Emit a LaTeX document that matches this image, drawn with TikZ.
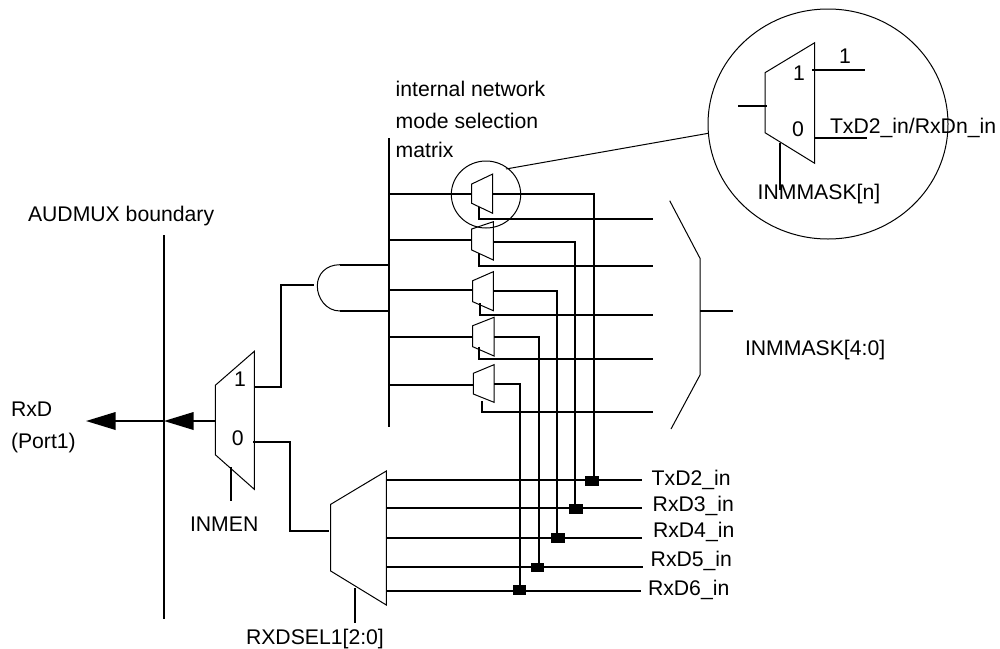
\documentclass[tikz,border=0pt]{standalone}
\usepackage{fontspec}
\setmainfont{Liberation Sans}
\usetikzlibrary{arrows.meta,calc,shapes.geometric}
\tikzset{
  wire/.style={line width=1.8pt,black,line cap=butt,line join=miter},
  thin outline/.style={line width=1pt,black,line join=miter},
  tap/.style={draw=none,fill=black,minimum width=13.5pt,minimum height=9.7pt,inner sep=0pt},
  lbl/.style={anchor=base west,inner sep=0pt,outer sep=0pt,font=\fontsize{21.2}{25}\selectfont},
  num/.style={anchor=base,inner sep=0pt,outer sep=0pt,font=\fontsize{21.2}{25}\selectfont},
  bighead/.style={-{Triangle[length=29.5pt,width=17.5pt]}},
  ring/.style={draw,ellipse,thin outline,inner sep=0pt},
}
\begin{document}
\begin{tikzpicture}[x=1pt,y=-1pt]
\useasboundingbox (0,0) rectangle (1000,648);
% labels
\node[lbl] (tAud) at (28,221.7) {AUDMUX boundary};
\node[lbl] (tRxd) at (11,416.7) {RxD};
\node[lbl] (tPort) at (11,448) {(Port1)};
\node[lbl] (tInt) at (395.7,96.7) {internal network};
\node[lbl] (tMode) at (395.7,128) {mode selection};
\node[lbl] (tMat) at (395.7,157.7) {matrix};
\node[lbl] (tInmen) at (190,531.7) {INMEN};
\node[lbl] (tSel) at (246,644) {RXDSEL1[2:0]};
\node[lbl] (tMask) at (745,355) {INMMASK[4:0]};
\node[lbl] (tTx) at (651.7,485.7) {TxD2\_in};
\node[lbl] (tR3) at (652.7,511.7) {RxD3\_in};
\node[lbl] (tR4) at (653,537) {RxD4\_in};
\node[lbl] (tR5) at (650.7,566.7) {RxD5\_in};
\node[lbl] (tR6) at (648,595) {RxD6\_in};
\node[num] (m1a) at (240,386.7) {1};
\node[num] (m0a) at (237.7,445.7) {0};

% boundary
\coordinate (bT) at (164,235);
\coordinate (bB) at (164,619);
\draw[wire] (bT) -- (bB);

% matrix bus
\coordinate (busT) at (388.7,138);
\coordinate (busB) at (388.7,427);
\draw[wire] (busT) -- (busB);

% main output mux
\coordinate (mA) at (215.3,385.3);
\coordinate (mB) at (254.3,351.3);
\coordinate (mC) at (254.3,489.3);
\coordinate (mD) at (215.3,454.7);
\draw[thin outline] (mA) -- (mB) -- (mC) -- (mD) -- cycle;
\coordinate (mOut) at (215.3,421);
\coordinate (bX) at (164,421);
\coordinate (rxdEnd) at (86,421);
\draw[wire,bighead] (mOut) -- (bX);
\draw[wire,bighead] (bX) -- (rxdEnd);
\coordinate (mSelT) at (231,467);
\coordinate (mSelB) at (231,500.7);
\draw[wire] (mSelT) -- (mSelB);

% gate
\coordinate (gTop) at (340,264.7);
\coordinate (gBot) at (340,311);
\coordinate (gLeft) at (317.3,285);
\draw[thin outline] (gTop) .. controls (326,264.7) and (317.3,274) .. (317.3,286) .. controls (317.3,298) and (326,311) .. (gBot);
\draw[wire] (gTop) -- (gTop -| busT);
\draw[wire] (gBot) -- (gBot -| busT);
\coordinate (m1o) at (254.3,386.7);
\coordinate (m1k) at (281,386.7);
\coordinate (gIn) at (314,284.7);
\draw[wire] (m1o) -- (m1k) |- (gIn);

% lower mux
\coordinate (sA) at (330.7,504.3);
\coordinate (sB) at (386.3,471);
\coordinate (sC) at (386.3,605);
\coordinate (sD) at (330.7,571);
\draw[thin outline] (sA) -- (sB) -- (sC) -- (sD) -- cycle;
\coordinate (m0o) at (253,442);
\coordinate (m0k) at (290,442);
\coordinate (sIn) at (329,531);
\draw[wire] (m0o) -- (m0k) |- (sIn);
\coordinate (sSelT) at (355,588);
\coordinate (sSelB) at (355,622.7);
\draw[wire] (sSelT) -- (sSelB);

% input rails
\foreach \n/\y/\e in {1/480/642,2/508/642,3/538/642,4/567/643,5/591/641}{
  \coordinate (rL\n) at (386.3,\y);
  \coordinate (rR\n) at (\e,\y);
  \draw[wire] (rL\n) -- (rR\n);
}

% tap blocks
\node[tap] (j1) at (592.2,480.9) {};
\node[tap] (j2) at (576,508.9) {};
\node[tap] (j3) at (558,537.9) {};
\node[tap] (j4) at (537.5,567.5) {};
\node[tap] (j5) at (519.5,589.9) {};

% small muxes
\foreach \n/\lx/\rx/\lt/\rt/\rb/\lb/\iny/\outy/\vx/\sx/\st/\sy in {
  1/471.7/492.7/184/174/213.3/203.3/194/194/593.7/479/206.7/219,
  2/471.7/493.3/229/221.7/260/250/240/241.7/575/479/253.3/266,
  3/472.7/493.3/280.7/271.7/310.7/301.7/290/291/557/480/303/315,
  4/472.7/494/325.7/317.3/356/346.7/337/337/539/479/346.7/359,
  5/473.3/494/373.3/364.7/402.3/394/385/384/520/481.7/401/412}{
  \coordinate (a\n) at (\lx,\lt);
  \coordinate (b\n) at (\rx,\rt);
  \coordinate (c\n) at (\rx,\rb);
  \coordinate (d\n) at (\lx,\lb);
  \draw[thin outline] (a\n) -- (b\n) -- (c\n) -- (d\n) -- cycle;
  \coordinate (in\n) at (\lx,\iny);
  \draw[wire] (in\n -| busT) -- (in\n);
  \coordinate (o\n) at (\rx,\outy);
  \coordinate (k\n) at (\vx,\outy);
  \draw[wire] (o\n) -- (k\n) -- (k\n |- j\n);
  \coordinate (st\n) at (\sx,\st);
  \coordinate (se\n) at (653,\sy);
  \draw[wire] (st\n) |- (se\n);
}

% zoom circle and leader
\node[ring,minimum width=69.4pt,minimum height=67pt] (zc) at (486,194.5) {};
\node[ring,minimum width=240pt,minimum height=230pt] (bc) at (828,124) {};
\coordinate (ldA) at (506,169);
\coordinate (ldB) at (708.3,133.3);
\draw[thin outline] (ldA) -- (ldB);

% brace
\coordinate (brA) at (669.7,200.7);
\coordinate (brB) at (700,258.3);
\coordinate (brC) at (700,375);
\coordinate (brD) at (671,429);
\coordinate (brS) at (733,311);
\draw[thin outline] (brA) -- (brB) -- (brC) -- (brD);
\draw[wire] (brS -| brB) -- (brS);

% enlarged mux
\coordinate (zA) at (765,72.7);
\coordinate (zB) at (814.7,42.7);
\coordinate (zC) at (814.7,163.3);
\coordinate (zD) at (765,132.7);
\draw[thin outline] (zA) -- (zB) -- (zC) -- (zD) -- cycle;
\coordinate (zI) at (738,105.7);
\coordinate (zIe) at (767,105.7);
\draw[wire] (zI) -- (zIe);
\coordinate (zO1) at (812,69.7);
\coordinate (zO1e) at (865,69.7);
\draw[wire] (zO1) -- (zO1e);
\coordinate (zO0) at (814.7,138.3);
\coordinate (zO0e) at (866.7,138.3);
\draw[wire] (zO0) -- (zO0e);
\coordinate (zS) at (780,142.7);
\coordinate (zSe) at (780,190);
\draw[wire] (zS) -- (zSe);
\node[num] (z1) at (799,80.7) {1};
\node[num] (z0) at (798,136.7) {0};
\node[num] (zOne) at (845,63.3) {1};
\node[lbl] (zTx) at (830,133) {TxD2\_in/RxDn\_in};
\node[lbl] (zMask) at (757.7,199.3) {INMMASK[n]};
\end{tikzpicture}
\end{document}
